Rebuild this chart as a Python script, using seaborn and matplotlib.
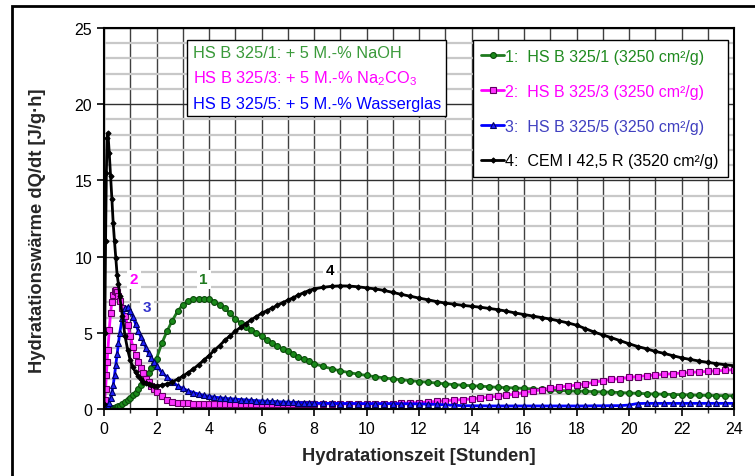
import numpy as np
import pandas as pd
import matplotlib
matplotlib.use("Agg")
import matplotlib.pyplot as plt
import seaborn as sns
from matplotlib.patches import Rectangle
from matplotlib.offsetbox import TextArea, VPacker, AnchoredOffsetbox
from matplotlib.ticker import MultipleLocator

# Zeitpunkte [h]
zeit = [0, 0.03, 0.06, 0.09, 0.12, 0.15, 0.2, 0.25, 0.3, 0.35, 0.4, 0.45, 0.5, 0.55, 0.6, 0.7, 0.8, 0.9,
        1.0, 1.1, 1.2, 1.3, 1.4, 1.5, 1.6, 1.7, 1.8, 1.9,
        2.0, 2.2, 2.4, 2.6, 2.8, 3.0, 3.2, 3.4, 3.6, 3.8, 4.0, 4.2, 4.4, 4.6, 4.8, 5.0, 5.2, 5.4, 5.6, 5.8,
        6.0, 6.2, 6.4, 6.6, 6.8, 7.0, 7.2, 7.4, 7.6, 7.8, 8.0,
        8.33, 8.67, 9.0, 9.33, 9.67, 10.0, 10.33, 10.67, 11.0, 11.33, 11.67, 12.0, 12.33, 12.67, 13.0,
        13.33, 13.67, 14.0, 14.33, 14.67, 15.0, 15.33, 15.67, 16.0, 16.33, 16.67, 17.0, 17.33, 17.67, 18.0,
        18.33, 18.67, 19.0, 19.33, 19.67, 20.0, 20.33, 20.67, 21.0, 21.33, 21.67, 22.0, 22.33, 22.67, 23.0,
        23.33, 23.67, 24.0]

# 1: HS B 325/1 (NaOH)
hs_1 = [0, 0, 0, 0, 0, 0, 0, 0.02, 0.04, 0.06, 0.08, 0.11, 0.14, 0.18, 0.22, 0.32, 0.44, 0.58,
        0.74, 0.9, 1.08, 1.3, 1.55, 1.8, 2.08, 2.38, 2.68, 2.98,
        3.3, 4.3, 5.1, 5.8, 6.4, 6.85, 7.08, 7.2, 7.25, 7.25, 7.2, 7.05, 6.85, 6.6, 6.28, 5.92, 5.65, 5.4,
        5.2, 5.0, 4.78, 4.55, 4.32, 4.12, 3.95, 3.78, 3.6, 3.42, 3.27, 3.15, 2.98,
        2.8, 2.64, 2.5, 2.39, 2.29, 2.2, 2.12, 2.04, 1.97, 1.92, 1.86, 1.8, 1.76, 1.7, 1.65, 1.6, 1.56,
        1.53, 1.5, 1.46, 1.42, 1.4, 1.38, 1.35, 1.32, 1.28, 1.25, 1.22, 1.19, 1.17, 1.16, 1.14, 1.12, 1.1,
        1.08, 1.05, 1.03, 1.0, 0.98, 0.97, 0.95, 0.94, 0.92, 0.9, 0.89, 0.88, 0.87, 0.87]

# 2: HS B 325/3 (Na2CO3)
hs_3 = [0.3, 0.6, 1.3, 2.2, 3.1, 3.9, 5.2, 6.3, 7.0, 7.5, 7.75, 7.78, 7.65, 7.4, 7.1, 6.6, 6.1, 5.5,
        4.8, 4.1, 3.55, 3.1, 2.7, 2.35, 2.0, 1.75, 1.5, 1.3,
        1.12, 0.85, 0.6, 0.45, 0.4, 0.38, 0.37, 0.36, 0.36, 0.35, 0.35, 0.35, 0.35,
        0.34, 0.34, 0.34, 0.34, 0.34, 0.34, 0.34, 0.34, 0.34, 0.34, 0.34, 0.34, 0.34, 0.34, 0.34, 0.34,
        0.34, 0.34,
        0.34, 0.34, 0.34, 0.34, 0.34, 0.34, 0.35, 0.35, 0.36, 0.38, 0.4, 0.42, 0.45, 0.5, 0.54, 0.58,
        0.62, 0.66, 0.72, 0.78, 0.83, 0.9, 0.98, 1.08, 1.17, 1.27, 1.36, 1.44, 1.5, 1.57, 1.65, 1.75,
        1.86, 1.94, 2.0, 2.08, 2.13, 2.18, 2.23, 2.27, 2.32, 2.36, 2.4, 2.43, 2.47, 2.5, 2.54, 2.58]

# 3: HS B 325/5 (Wasserglas)
hs_5 = [0, 0, 0.02, 0.05, 0.1, 0.2, 0.4, 0.7, 1.1, 1.55, 2.2, 2.9, 3.6, 4.3, 5.0, 6.0, 6.6, 6.7,
        6.45, 6.05, 5.6, 5.15, 4.75, 4.4, 4.0, 3.65, 3.35, 3.1,
        2.85, 2.4, 2.1, 1.8, 1.52, 1.35, 1.2, 1.08, 0.98, 0.9, 0.83, 0.78, 0.74, 0.7, 0.67, 0.65, 0.62,
        0.6, 0.57, 0.55, 0.53, 0.51, 0.5, 0.48, 0.46, 0.45, 0.43, 0.42, 0.4, 0.39, 0.38,
        0.37, 0.37, 0.36, 0.36, 0.36, 0.35, 0.35, 0.35, 0.35, 0.35, 0.34, 0.34,
        0.32, 0.3, 0.27, 0.24, 0.22,
        0.21, 0.21, 0.2, 0.2, 0.2, 0.2, 0.2, 0.2, 0.2, 0.2, 0.2, 0.2, 0.2, 0.2, 0.21, 0.21, 0.22, 0.22,
        0.26,
        0.36, 0.37, 0.37, 0.37, 0.37, 0.37, 0.37, 0.37, 0.37, 0.37, 0.37, 0.37]

# 4: CEM I 42,5 R
cem = [0.3, 5.0, 11.0, 15.5, 17.8, 18.1, 16.8, 15.3, 13.8, 12.2, 11.0, 9.9, 8.8, 8.2, 7.4, 6.1, 4.8, 3.9,
       3.2, 2.75, 2.4, 2.15, 1.95, 1.8, 1.7, 1.62, 1.57, 1.53,
       1.52, 1.55, 1.65, 1.78, 1.95, 2.15, 2.38, 2.62, 2.9, 3.2, 3.5, 3.85, 4.15, 4.5, 4.8, 5.1, 5.35,
       5.6, 5.85, 6.05, 6.28, 6.45, 6.62, 6.8, 6.98, 7.13, 7.3, 7.47, 7.63, 7.77, 7.88,
       7.98, 8.05, 8.08, 8.07, 8.02, 7.95, 7.88, 7.78, 7.65, 7.52, 7.4, 7.28, 7.17, 7.05, 6.95, 6.88,
       6.8, 6.74, 6.68, 6.6, 6.52, 6.42, 6.3, 6.2, 6.1, 6.0, 5.9, 5.78, 5.65, 5.5, 5.28, 5.05, 4.86,
       4.68, 4.48, 4.28, 4.1, 3.95, 3.78, 3.65, 3.5, 3.36, 3.25, 3.15, 3.06, 2.98, 2.9, 2.84]

legend_labels = ["1:  HS B 325/1 (3250 cm²/g)", "2:  HS B 325/3 (3250 cm²/g)",
                 "3:  HS B 325/5 (3250 cm²/g)", "4:  CEM I 42,5 R (3520 cm²/g)"]
box_lines = ["HS B 325/1: + 5 M.-% NaOH", "HS B 325/3: + 5 M.-% Na$_2$CO$_3$",
             "HS B 325/5: + 5 M.-% Wasserglas"]

sns.set_theme(style="white")
plt.rcParams["font.family"] = ["Liberation Sans", "DejaVu Sans"]
plt.rcParams["mathtext.fontset"] = "custom"
plt.rcParams["mathtext.rm"] = "Liberation Sans"

fig = plt.figure(figsize=(7.55, 4.77), dpi=100)
ax = fig.add_axes([104 / 755, 1 - 410 / 477, 630 / 755, 381 / 477])

# Gitter
ax.xaxis.set_major_locator(MultipleLocator(2))
ax.xaxis.set_minor_locator(MultipleLocator(1))
ax.yaxis.set_major_locator(MultipleLocator(5))
ax.yaxis.set_minor_locator(MultipleLocator(1))
ax.grid(which="minor", axis="y", color="#c8c8c8", lw=1.6, zorder=0)
ax.grid(which="major", axis="y", color="#303030", lw=1.0, zorder=0)
ax.grid(which="both", axis="x", color="#404040", lw=1.0, zorder=0)
ax.set_axisbelow(True)

serien = [
    (hs_1, "#1f7a1f", "o", 4.2, "#0a4a0a", "#1a8a1a"),
    (hs_3, "#ff00ff", "s", 4.2, "#600060", "#ff33ff"),
    (hs_5, "#0000ff", "^", 4.0, "#000060", "#2020ff"),
    (cem, "#000000", "D", 2.6, "#000000", "#000000"),
]
for (werte, farbe, mk, ms, kante, fuell), lab in zip(serien, legend_labels):
    sns.lineplot(x=zeit, y=werte, ax=ax, color=farbe, lw=2.0, marker=mk, markersize=ms,
                 markeredgecolor=kante, markerfacecolor=fuell, markeredgewidth=0.8,
                 label=lab, errorbar=None)

ax.set_xlim(0, 24)
ax.set_ylim(0, 25)
ax.set_xlabel("Hydratationszeit [Stunden]", fontsize=13.2, fontweight="bold", labelpad=8)
ax.set_ylabel("Hydratationswärme dQ/dt [J/g·h]", fontsize=13.2, fontweight="bold")
ax.yaxis.set_label_coords(-0.092, 0.47)
ax.tick_params(axis="both", which="major", labelsize=11.5, direction="out", length=5, width=1.2,
               bottom=True, left=True, colors="black")
ax.tick_params(axis="x", which="minor", direction="out", length=3, width=1, bottom=True)
for s in ax.spines.values():
    s.set_color("black")
    s.set_linewidth(1.5)

# Nummern an den Kurven
nummern = [("1", 3.8, 8.5, "#1f7a1f"), ("2", 1.15, 8.5, "#ff00ff"),
           ("3", 1.65, 6.7, "#3333cc"), ("4", 8.6, 9.1, "#000000")]
for txt, xx, yy, c in nummern:
    ax.text(xx, yy, txt, color=c, fontsize=11, fontweight="bold", ha="center", va="center",
            bbox=dict(facecolor="white", edgecolor="none", pad=2), zorder=5)

# Legende
handles, labels = ax.get_legend_handles_labels()
leg = ax.legend(handles, labels, loc="upper right", bbox_to_anchor=(0.99, 0.969), borderaxespad=0,
                fontsize=11.5, labelspacing=1.25, handlelength=1.4, handletextpad=0.1,
                borderpad=0.55, fancybox=False, framealpha=1, edgecolor="black",
                labelcolor=["#1f8a1f", "#ff00ff", "#4040c0", "#000000"])
leg.get_frame().set_linewidth(1.0)

# Textkasten
farben_box = ["#3a9a3a", "#ff00ff", "#0000ff"]
zeilen = [TextArea(z, textprops=dict(color=c, fontsize=11.8)) for z, c in zip(box_lines, farben_box)]
pack = VPacker(children=zeilen, align="left", pad=0, sep=6)
abox = AnchoredOffsetbox(loc="upper left", child=pack, pad=0.35, frameon=True,
                         bbox_to_anchor=(0.132, 0.969), bbox_transform=ax.transAxes, borderpad=0)
abox.patch.set_edgecolor("black")
abox.patch.set_linewidth(1.0)
abox.patch.set_boxstyle("square", pad=0)
abox.zorder = 6
ax.add_artist(abox)

# Rahmen um die Grafik
fig.patches.append(Rectangle((12 / 755, -0.1), 1.2, (477 - 7) / 477 + 0.1, transform=fig.transFigure,
                             fill=False, edgecolor="black", lw=2.0))

fig.savefig("out.png", dpi=100)
